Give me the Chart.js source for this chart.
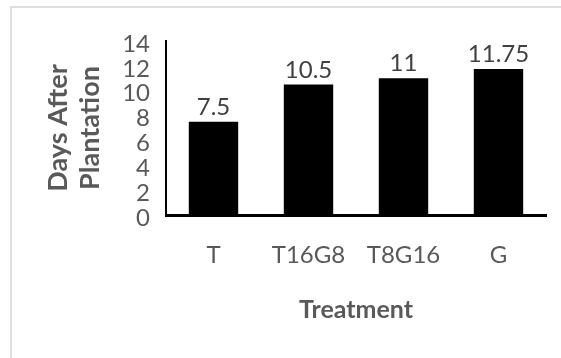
<!DOCTYPE html>
<html>
<head>
<meta charset="utf-8">
<script src="https://cdn.jsdelivr.net/npm/chart.js@4.4.1/dist/chart.umd.min.js"></script>
<style>
  html, body { margin: 0; padding: 0; background: #ffffff; }
  #wrap { position: relative; width: 561px; height: 358px; overflow: hidden; }
  #frame { position: absolute; left: 10px; top: 6px; width: 600px; height: 400px;
           border-top: 2px solid #dedede; border-left: 2px solid #dedede; box-sizing: border-box; }
  canvas { position: absolute; left: 0; top: 0; }
</style>
</head>
<body>
<div id="wrap">
  <div id="frame"></div>
  <canvas id="c" width="561" height="358"></canvas>
</div>
<script>
const categories = ['T', 'T16G8', 'T8G16', 'G'];
const daysAfterPlantation = [7.5, 10.5, 11, 11.75];
const valueLabels = ['7.5', '10.5', '11', '11.75'];
const yTickValues = [0, 2, 4, 6, 8, 10, 12, 14];
const xAxisTitle = 'Treatment';
const yAxisTitle = ['Days After', 'Plantation'];

const grey = '#595959';
const FONT = 'Lato, "Open Sans", "DejaVu Sans", sans-serif';

const valueLabelPlugin = {
  id: 'valueLabels',
  afterDatasetsDraw(chart) {
    const ctx = chart.ctx;
    const meta = chart.getDatasetMeta(0);
    ctx.save();
    ctx.font = '24px ' + FONT;
    ctx.fillStyle = '#404040';
    ctx.textAlign = 'center';
    ctx.textBaseline = 'alphabetic';
    meta.data.forEach((bar, i) => {
      ctx.fillText(valueLabels[i], bar.x, bar.y - 7);
    });
    ctx.restore();
  }
};

new Chart(document.getElementById('c'), {
  type: 'bar',
  data: {
    labels: categories,
    datasets: [{
      data: daysAfterPlantation,
      backgroundColor: '#000000',
      borderWidth: 0,
      barPercentage: 0.52,
      categoryPercentage: 1.0
    }]
  },
  options: {
    responsive: false,
    animation: false,
    devicePixelRatio: 1,
    layout: { padding: { top: 41, right: 15, bottom: 0, left: 0 } },
    plugins: { legend: { display: false }, tooltip: { enabled: false } },
    scales: {
      x: {
        grid: { display: false, drawTicks: false },
        border: { display: true, color: '#000000', width: 3 },
        ticks: { color: grey, font: { family: FONT, size: 24 }, padding: 26, maxRotation: 0, autoSkip: false },
        title: { display: true, text: xAxisTitle, color: grey,
                 font: { family: FONT, size: 25, weight: 'bold', lineHeight: 1.2 },
                 padding: { top: 0, bottom: 33 } },
        afterFit(scale) { scale.height = 143; }
      },
      y: {
        min: 0, max: 14,
        afterBuildTicks(scale) { scale.ticks = yTickValues.map(v => ({ value: v })); },
        grid: { display: false, drawTicks: false },
        border: { display: true, color: '#000000', width: 2 },
        ticks: { color: grey, font: { family: FONT, size: 24, lineHeight: 1 }, padding: 16, autoSkip: false, labelOffset: 3 },
        title: { display: true, text: yAxisTitle, color: grey,
                 font: { family: FONT, size: 27, weight: 'bold', lineHeight: '32px' },
                 padding: { top: 42, bottom: 0 } },
        afterFit(scale) { scale.width = 166; }
      }
    }
  },
  plugins: [valueLabelPlugin]
});
</script>
</body>
</html>
